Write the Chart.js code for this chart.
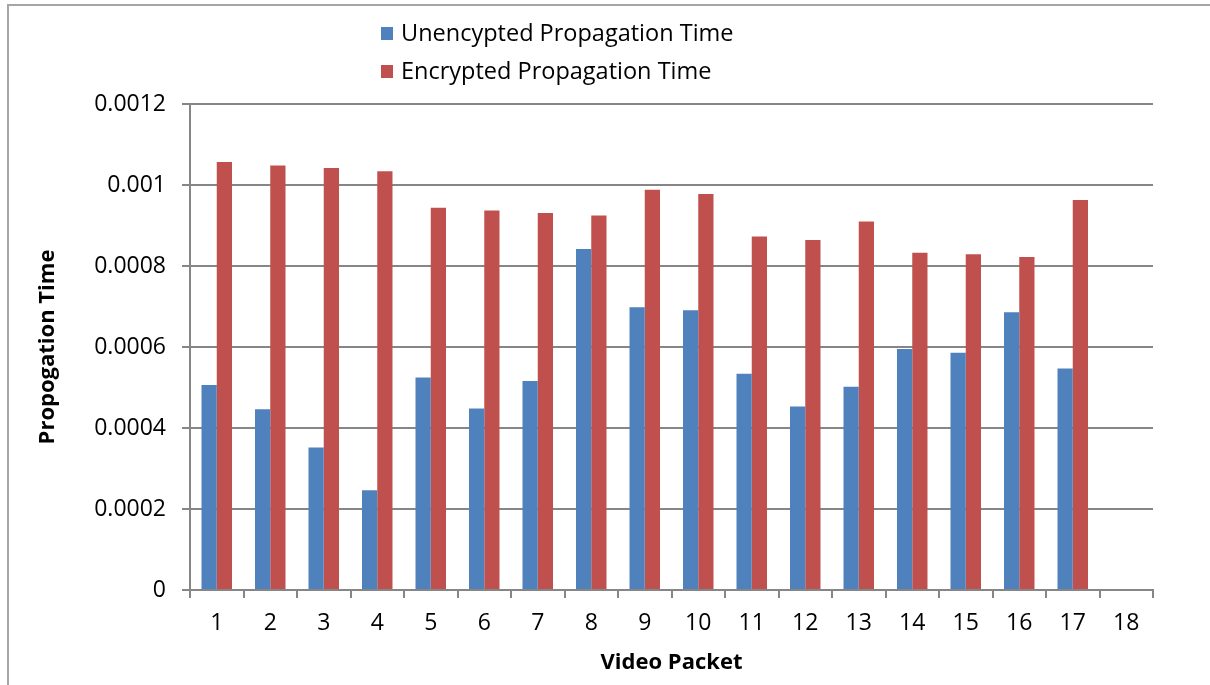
<!DOCTYPE html>
<html>
<head>
<meta charset="utf-8">
<style>
  html, body { margin: 0; padding: 0; background: #ffffff; }
  #wrap { position: relative; width: 1210px; height: 685px; }
</style>
<script src="https://cdn.jsdelivr.net/npm/chart.js@4.4.1/dist/chart.umd.min.js"></script>
</head>
<body>
<div id="wrap"><canvas id="chart" width="1210" height="685"></canvas></div>
<script>
// Packet numbers along the x axis
const packets = ['1','2','3','4','5','6','7','8','9','10','11','12','13','14','15','16','17','18'];

// Propagation time per packet (seconds)
const unencrypted = [0.000506, 0.000446, 0.000352, 0.000246, 0.000525, 0.000448, 0.000516, 0.000842,
                     0.000698, 0.000691, 0.000534, 0.000453, 0.000502, 0.000595, 0.000586, 0.000686,
                     0.000547, null];
const encrypted   = [0.001057, 0.001048, 0.001042, 0.001034, 0.000944, 0.000937, 0.000931, 0.000925,
                     0.000988, 0.000978, 0.000873, 0.000864, 0.000910, 0.000833, 0.000829, 0.000822,
                     0.000963, null];

// Y axis tick values
const yTicks = [0, 0.0002, 0.0004, 0.0006, 0.0008, 0.001, 0.0012];

const seriesNames = ['Unencypted Propagation Time', 'Encrypted Propagation Time'];
const seriesColors = ['#4F81BD', '#C0504D'];

const axisGray = '#868686';
const tickFont = { family: 'Open Sans', size: 23 };

// Frame around the chart and a stacked legend above the plot
const framePlugin = {
  id: 'frameAndLegend',
  beforeDraw(chart) {
    const ctx = chart.ctx;
    ctx.save();
    ctx.fillStyle = '#ffffff';
    ctx.fillRect(0, 0, chart.width, chart.height);
    ctx.strokeStyle = '#a6a6a6';
    ctx.lineWidth = 2;
    ctx.beginPath();
    ctx.moveTo(8, chart.height + 5);
    ctx.lineTo(8, 5);
    ctx.lineTo(chart.width + 5, 5);
    ctx.stroke();
    ctx.restore();
  },
  afterDraw(chart) {
    const ctx = chart.ctx;
    ctx.save();
    ctx.font = '23.5px "Open Sans"';
    ctx.textBaseline = 'middle';
    ctx.textAlign = 'left';
    chart.data.datasets.forEach((ds, i) => {
      const cy = 34 + i * 38;
      ctx.fillStyle = ds.backgroundColor;
      ctx.fillRect(381, cy - 7, 12, 13);
      ctx.fillStyle = '#000000';
      ctx.fillText(ds.label, 401, cy);
    });
    ctx.restore();
  }
};

new Chart(document.getElementById('chart'), {
  type: 'bar',
  data: {
    labels: packets,
    datasets: [
      { label: seriesNames[0], data: unencrypted, backgroundColor: seriesColors[0] },
      { label: seriesNames[1], data: encrypted, backgroundColor: seriesColors[1] }
    ]
  },
  plugins: [framePlugin],
  options: {
    responsive: false,
    animation: false,
    layout: { padding: { top: 104, right: 57, left: 0, bottom: 0 } },
    datasets: { bar: { categoryPercentage: 0.57, barPercentage: 1.0 } },
    plugins: {
      legend: { display: false },
      tooltip: { enabled: false }
    },
    scales: {
      x: {
        grid: {
          offset: true,
          drawOnChartArea: false,
          drawTicks: true,
          tickLength: 8,
          color: axisGray,
          lineWidth: 2
        },
        border: { display: true, color: axisGray, width: 2 },
        ticks: { font: tickFont, color: '#000000', padding: 12, maxRotation: 0 },
        title: {
          display: true,
          text: 'Video Packet',
          font: { family: 'Open Sans', size: 22, weight: 'bold' },
          color: '#000000',
          padding: { top: 4, bottom: 9 }
        },
        afterFit(scale) { scale.height = 95; }
      },
      y: {
        min: 0,
        max: 0.0012,
        afterBuildTicks(scale) { scale.ticks = yTicks.map(v => ({ value: v })); },
        grid: {
          drawTicks: true,
          tickLength: 8,
          color: axisGray,
          lineWidth: 2
        },
        border: { display: true, color: axisGray, width: 2 },
        ticks: {
          font: tickFont,
          color: '#000000',
          padding: 16,
          callback: v => String(+v.toFixed(6))
        },
        title: {
          display: true,
          text: 'Propogation Time',
          font: { family: 'Open Sans', size: 22, weight: 'bold' },
          color: '#000000',
          padding: { top: 35, bottom: 0 }
        },
        afterFit(scale) { scale.width = 190; }
      }
    }
  }
});
</script>
</body>
</html>
